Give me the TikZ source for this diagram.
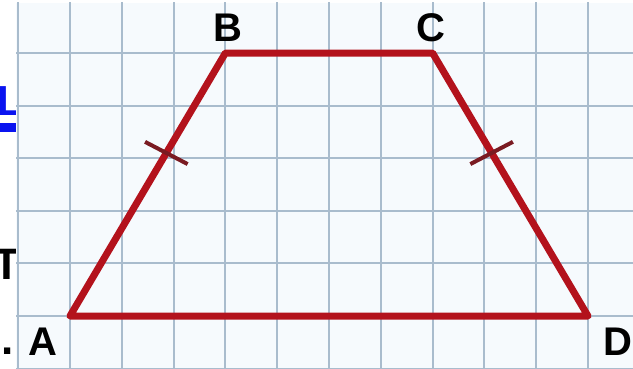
\documentclass[tikz,border=0pt]{standalone}
\usepackage{fontspec}
\setmainfont{Liberation Sans}
\usetikzlibrary{calc,positioning}
\definecolor{Paper}{HTML}{F6FAFD}
\definecolor{GridLine}{HTML}{A9BCCD}
\definecolor{Red}{HTML}{B3121C}
\definecolor{RedDark}{HTML}{7A1B22}
\definecolor{Blue}{HTML}{0A14F0}
\tikzset{
  vertex/.style={font=\fontsize{40}{40}\selectfont\bfseries,inner sep=0pt},
  side/.style={line width=7pt,Red,line join=round},
  tick/.style={line width=4pt,RedDark},
  cut/.style={font=\fontsize{44}{44}\selectfont\bfseries,inner sep=0pt,anchor=base east}
}
\begin{document}
\begin{tikzpicture}[x=51.8pt,y=52.6pt]
      \useasboundingbox[fill=white] (-1.351,-0.989) rectangle (10.869,6.008);
      \node[cut,Blue,anchor=base west,font=\fontsize{42}{42}\selectfont\bfseries] (lL) at (-1.409,3.82){L};
      \fill[Blue] ($(lL.base west)+(0,-8pt)$) rectangle ($(lL.base east)+(0,-17pt)$);
      \node[cut] (lT) at (-.95,.703){T};
      \node[cut] (lDot) at (-1.081,-.722){.};
      \fill[Paper] (-1.042,-0.989) rectangle (10.869,5.951);
      \begin{scope}
        \clip (-1.042,-0.989) rectangle (10.869,5.951);
        \draw[GridLine,line width=2pt,step=1] (-2,-2) grid (11,6);
      \end{scope}
      \coordinate (A) at (0,0);
      \coordinate (B) at (3,5);
      \coordinate (C) at (7,5);
      \coordinate (D) at (10,0);
      \draw[side] (A)--(B)--(C)--(D)--cycle;
      \coordinate (mAB) at ($(A)!.62!(B)$);
      \coordinate (mDC) at ($(D)!.62!(C)$);
      \draw[tick] ($(mAB)!24pt!93:(B)$)--($(mAB)!24pt!-87:(B)$);
      \draw[tick] ($(mDC)!24pt!87:(C)$)--($(mDC)!24pt!-93:(C)$);
      \node[vertex] (lA) at (-.521,-.494){A};
      \node[vertex] (lB) at (3.05,5.475){B};
      \node[vertex] (lC) at (6.97,5.475){C};
      \node[vertex] (lD) at (10.579,-.494){D};
    \end{tikzpicture}
\end{document}
